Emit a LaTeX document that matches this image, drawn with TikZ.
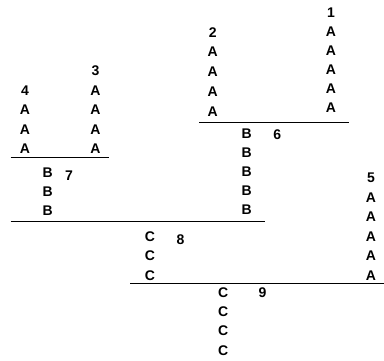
\documentclass[tikz,border=0pt]{standalone}
\usepackage{fontspec}
\setmainfont{Liberation Sans}
\begin{document}
\begin{tikzpicture}[x=1pt,y=-1pt,
  lab/.style={inner sep=0pt,anchor=base,font=\fontsize{14}{14}\selectfont\bfseries},
  bar/.style={line width=1pt}]
\useasboundingbox (0,0) rectangle (384,360);
% column 1
\node[lab] (n1) at (331,17.5) {1};
\foreach \y [count=\k] in {36.6,55.6,74.7,93.7,112.8}
  \node[lab] (c1-\k) at (331,\y) {A};
% column 2
\node[lab] (n2) at (212.7,37.3) {2};
\foreach \y [count=\k] in {56.9,76.5,96.1,116.7}
  \node[lab] (c2-\k) at (212.7,\y) {A};
% column 3
\node[lab] (n3) at (95.5,75) {3};
\foreach \y [count=\k] in {95,114.5,134,153.5}
  \node[lab] (c3-\k) at (95.5,\y) {A};
% column 4
\node[lab] (n4) at (25,95) {4};
\foreach \y [count=\k] in {114.5,134,153.5}
  \node[lab] (c4-\k) at (25,\y) {A};
% column 5
\node[lab] (n5) at (371,182.7) {5};
\foreach \y [count=\k] in {202,221.5,241,260.5,280}
  \node[lab] (c5-\k) at (371,\y) {A};
% column 6
\foreach \y [count=\k] in {138.3,157.3,176.3,195.3,214.3}
  \node[lab] (c6-\k) at (246.7,\y) {B};
\node[lab] (n6) at (277.3,139.5) {6};
% column 7
\foreach \y [count=\k] in {177.3,196.2,215}
  \node[lab] (c7-\k) at (47.7,\y) {B};
\node[lab] (n7) at (69,180) {7};
% column 8
\foreach \y [count=\k] in {241.5,260.7,280}
  \node[lab] (c8-\k) at (150,\y) {C};
\node[lab] (n8) at (180.5,244) {8};
% column 9
\foreach \y [count=\k] in {297,316.3,335.7,355}
  \node[lab] (c9-\k) at (223.3,\y) {C};
\node[lab] (n9) at (262.5,297.5) {9};
% bars
\coordinate (b1l) at (199,122.7); \coordinate (b1r) at (349,122.7);
\coordinate (b7l) at (10.7,157.5); \coordinate (b7r) at (109.3,157.5);
\coordinate (b8l) at (10.7,221); \coordinate (b8r) at (265,221);
\coordinate (b9l) at (130,283); \coordinate (b9r) at (383.5,283);
\draw[bar] (b1l) -- (b1r);
\draw[bar] (b7l) -- (b7r);
\draw[bar] (b8l) -- (b8r);
\draw[bar] (b9l) -- (b9r);
\end{tikzpicture}
\end{document}
